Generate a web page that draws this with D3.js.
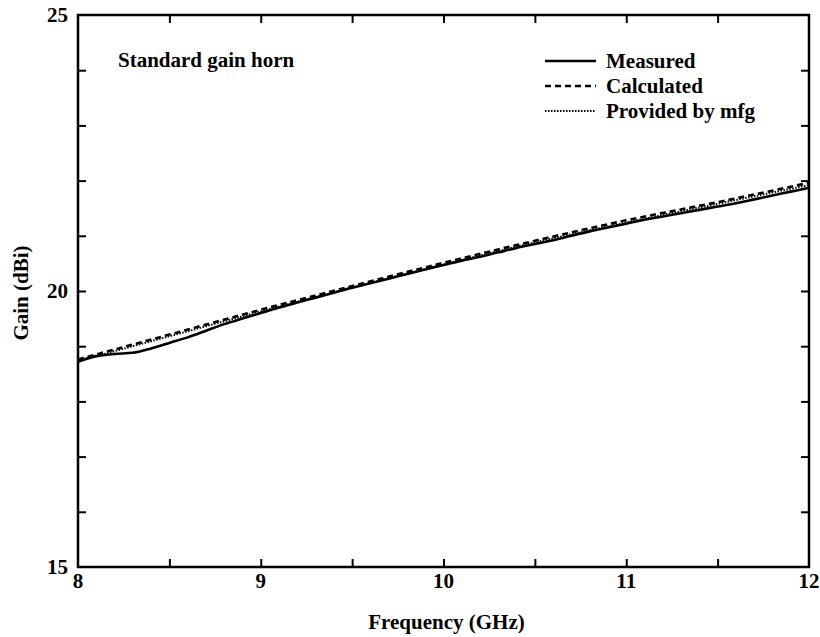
<!DOCTYPE html>
<html><head><meta charset="utf-8">
<script src="https://cdn.jsdelivr.net/npm/d3@7"></script>
<style>body{margin:0;background:#fff}text{font-family:"Liberation Serif","Times New Roman",serif;fill:#000}</style>
</head><body><svg id="c" width="820" height="637"></svg>
<script>
const freq = [8.0,8.1,8.2,8.3,8.4,8.5,8.6,8.7,8.8,8.9,9.0,9.1,9.2,9.3,9.4,9.5,9.6,9.7,9.8,9.9,10.0,10.1,10.2,10.3,10.4,10.5,10.6,10.7,10.8,10.9,11.0,11.1,11.2,11.3,11.4,11.5,11.6,11.7,11.8,11.9,12.0];
const measured = [18.72,18.82,18.86,18.88,18.96,19.06,19.16,19.28,19.40,19.50,19.60,19.70,19.79,19.88,19.97,20.06,20.14,20.22,20.31,20.39,20.47,20.55,20.62,20.70,20.78,20.85,20.92,21.00,21.08,21.15,21.22,21.29,21.35,21.41,21.47,21.53,21.59,21.66,21.73,21.80,21.87];
const calcFreq = [8.0,8.5,9.0,9.5,10.0,10.5,11.0,11.5,12.0];
const calculated = [18.76,19.21,19.66,20.09,20.51,20.91,21.28,21.61,21.96];
const mfgFreq = [8.0,8.5,9.0,9.5,10.0,10.5,11.0,11.5,12.0];
const provided = [18.73,19.18,19.63,20.06,20.48,20.88,21.24,21.58,21.92];
const xTickLabels = [8,9,10,11,12];
const xMinorTicks = [8.5,9,9.5,10,10.5,11,11.5];
const yTickLabels = [15,20,25];
const yMinorTicks = [16,17,18,19,20,21,22,23,24];
const legendLabels = ["Measured","Calculated","Provided by mfg"];
const title = "Standard gain horn";

const L=78,R=809,T=15,B=567;
const FS=21;
const svg=d3.select("#c");
const x=d3.scaleLinear().domain([8,12]).range([L,R]);
const y=d3.scaleLinear().domain([15,25]).range([B,T]);

svg.append("rect").attr("x",L).attr("y",T).attr("width",R-L).attr("height",B-T)
  .attr("fill","none").attr("stroke","#000").attr("stroke-width",2.5);

const tk=8;
const style=g=>{g.select(".domain").remove();g.selectAll("line").attr("stroke-width",2);};
svg.append("g").attr("transform",`translate(0,${B})`)
  .call(d3.axisBottom(x).tickValues(xMinorTicks).tickSize(-tk).tickFormat("")).call(style);
svg.append("g").attr("transform",`translate(0,${T})`)
  .call(d3.axisTop(x).tickValues(xMinorTicks).tickSize(-tk).tickFormat("")).call(style);
svg.append("g").attr("transform",`translate(${L},0)`)
  .call(d3.axisLeft(y).tickValues(yMinorTicks).tickSize(-tk).tickFormat("")).call(style);
svg.append("g").attr("transform",`translate(${R},0)`)
  .call(d3.axisRight(y).tickValues(yMinorTicks).tickSize(-tk).tickFormat("")).call(style);

svg.append("g").selectAll("text").data(xTickLabels).join("text")
  .attr("x",d=>x(d)).attr("y",B+21).attr("text-anchor","middle")
  .attr("font-size",FS).attr("font-weight","bold").text(d=>d);
svg.append("g").selectAll("text").data(yTickLabels).join("text")
  .attr("x",L-10).attr("y",d=>y(d)+7).attr("text-anchor","end")
  .attr("font-size",FS).attr("font-weight","bold").text(d=>d);

svg.append("text").attr("x",(L+R)/2+3).attr("y",629).attr("text-anchor","middle")
  .attr("font-size",FS).attr("font-weight","bold").text("Frequency (GHz)");
svg.append("text").attr("transform",`translate(28,${y(20)+2}) rotate(-90)`).attr("text-anchor","middle")
  .attr("font-size",FS).attr("font-weight","bold").text("Gain (dBi)");

svg.append("text").attr("x",118).attr("y",67).attr("font-size",FS).attr("font-weight","bold").text(title);

const line=d3.line().x(d=>x(d[0])).y(d=>y(d[1])).curve(d3.curveMonotoneX);
const styles=[{w:2.6,dash:null},{w:2.6,dash:"6,4"},{w:2,dash:"1.5,1.5"}];
const series=[d3.zip(freq,measured),d3.zip(calcFreq,calculated),d3.zip(mfgFreq,provided)];
[2,1,0].forEach(i=>{
  svg.append("path").datum(series[i]).attr("d",line).attr("fill","none")
    .attr("stroke","#000").attr("stroke-width",styles[i].w)
    .attr("stroke-dasharray",styles[i].dash);
});

const ly=[61,86,111];
legendLabels.forEach((lab,i)=>{
  svg.append("line").attr("x1",545).attr("x2",596).attr("y1",ly[i]).attr("y2",ly[i])
    .attr("stroke","#000").attr("stroke-width",styles[i].w).attr("stroke-dasharray",styles[i].dash);
  svg.append("text").attr("x",606).attr("y",ly[i]+7).attr("font-size",FS).attr("font-weight","bold").text(lab);
});
</script></body></html>
